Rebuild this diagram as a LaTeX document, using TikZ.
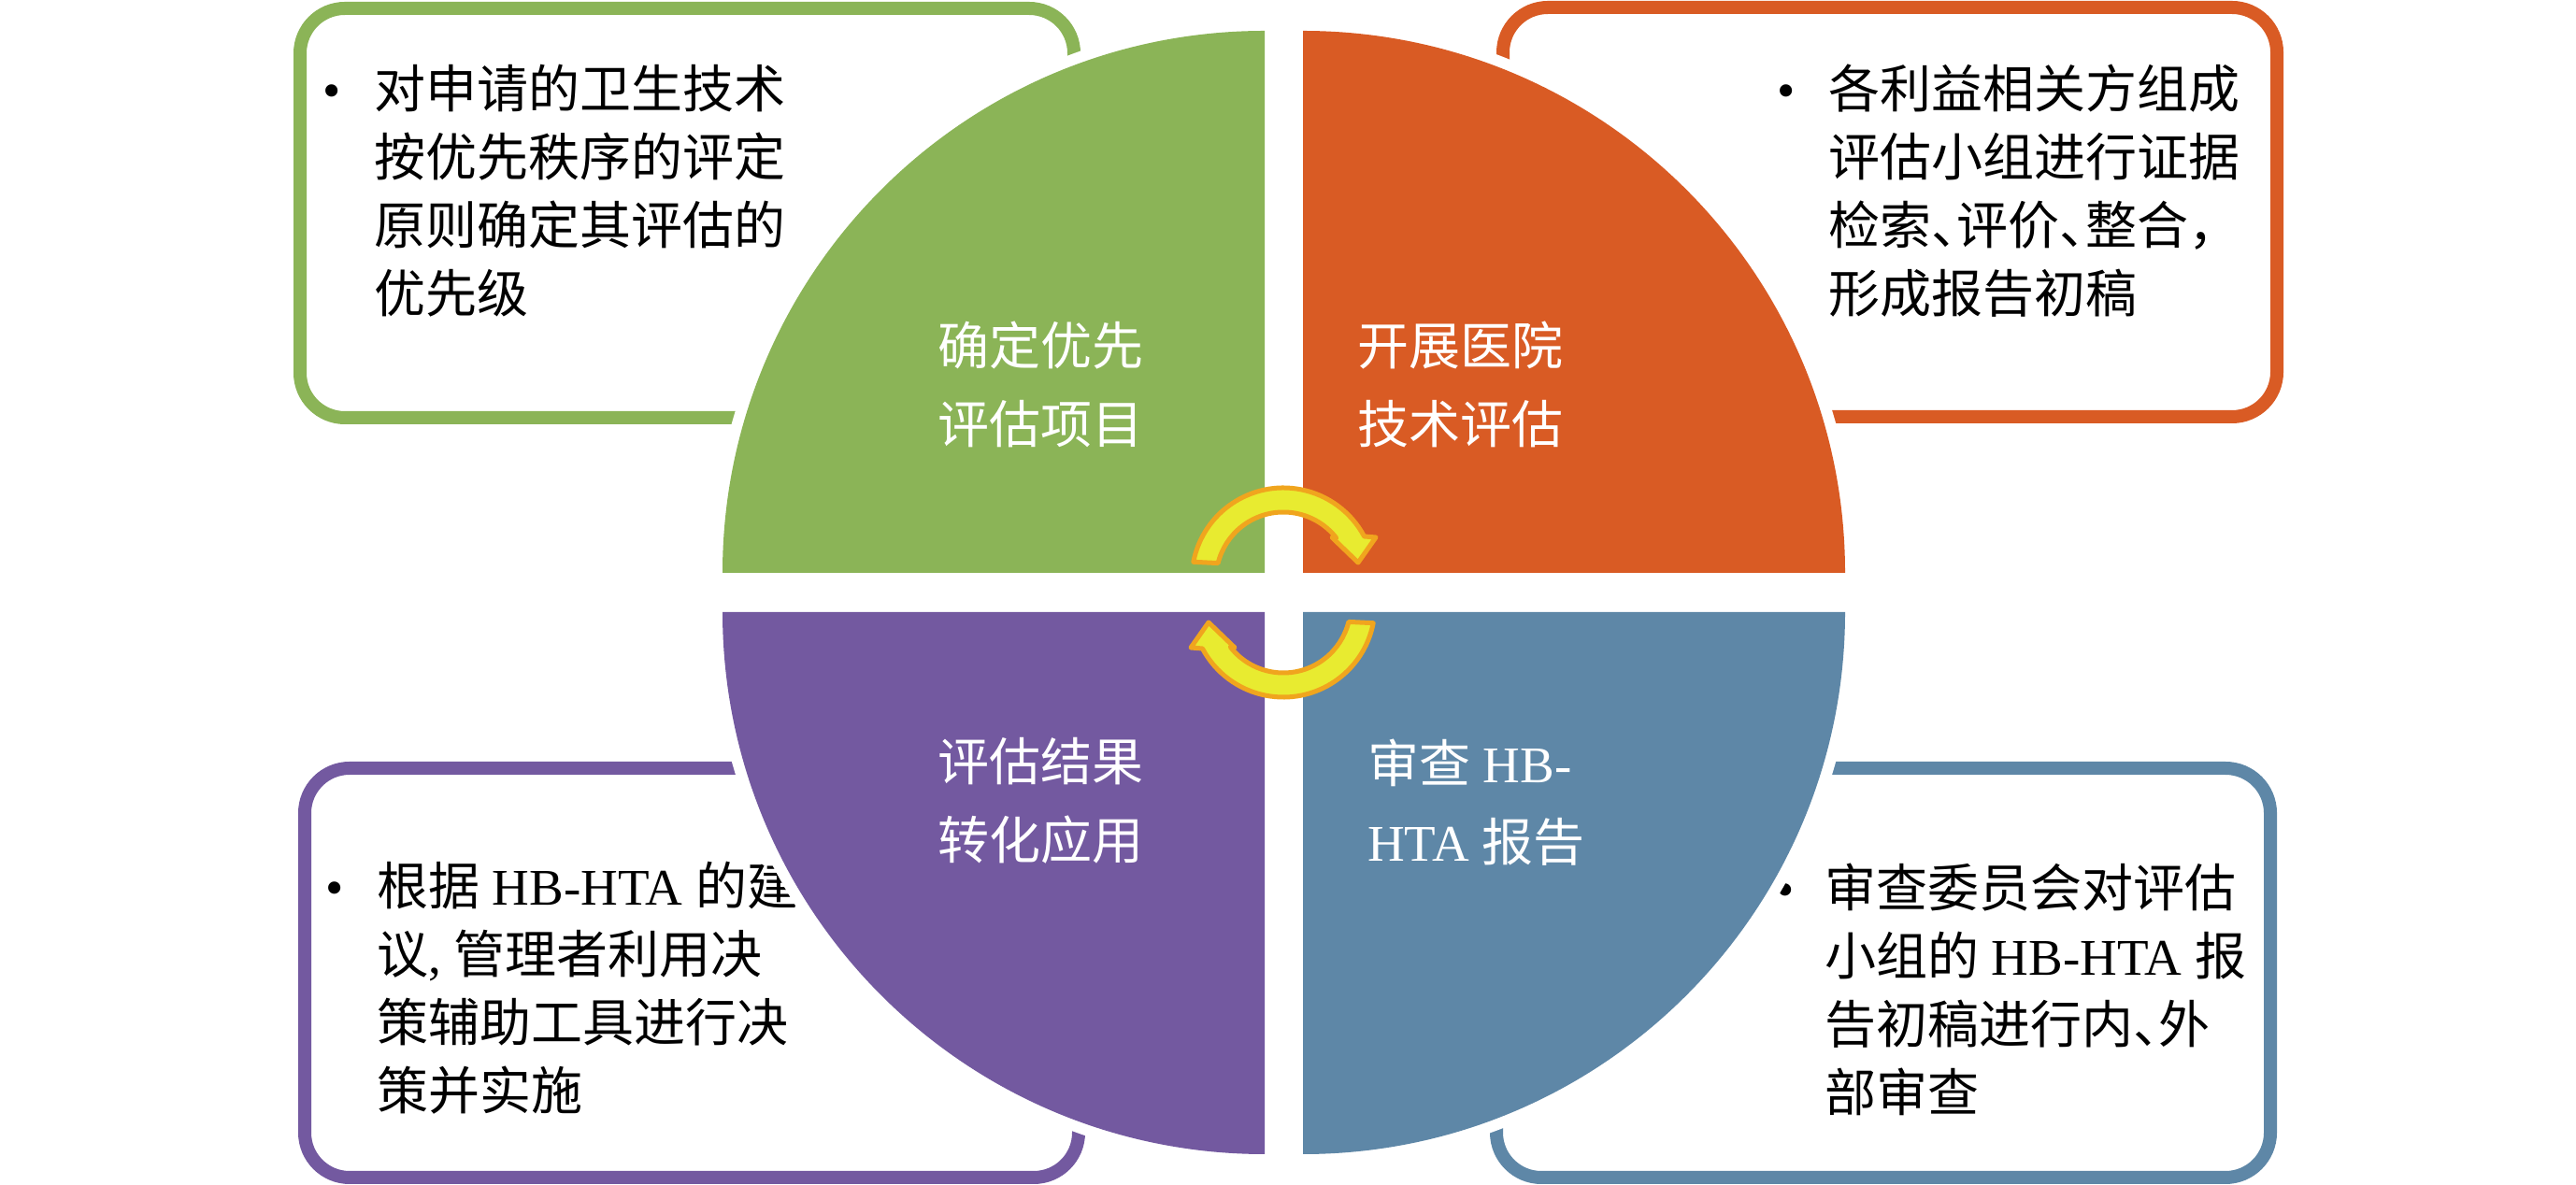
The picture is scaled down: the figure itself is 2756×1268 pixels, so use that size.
\documentclass[tikz,border=0pt]{standalone}
\usepackage{fontspec}
\setmainfont{Noto Sans CJK SC}
\newfontfamily\latin{Liberation Serif}
\usetikzlibrary{positioning}

\definecolor{qgreen}{RGB}{139,180,87}
\definecolor{qorange}{RGB}{217,91,36}
\definecolor{qpurple}{RGB}{115,89,160}
\definecolor{qblue}{RGB}{94,135,167}
\definecolor{cycfill}{RGB}{232,235,48}
\definecolor{cycline}{RGB}{240,165,30}

% half-width punctuation
\newcommand{\dun}{\makebox[.5em][l]{、}}
\newcommand{\dou}{\makebox[.5em][l]{，}}

\begin{document}
\begin{tikzpicture}[x=1pt, y=1pt,
  panel/.style={rectangle, draw=#1, line width=14pt, rounded corners=48pt, minimum width=828pt, minimum height=438pt},
  boxtext/.style={anchor=north west, inner sep=0pt, align=left, text=black, font=\fontsize{55}{73}\selectfont},
  qtext/.style={anchor=north west, inner sep=0pt, align=left, text=white, font=\fontsize{55}{84}\selectfont},
  cyc/.style={fill=cycfill, draw=cycline, line width=5pt, line join=round}
]
  \path[use as bounding box, fill=white] (0,0) rectangle (2756,1268);

  % the four panels
  \node[panel=qgreen] (gpanel) at (735,1040) {};
  \node[panel=qorange] (opanel) at (2022,1041) {};
  \node[panel=qpurple] (ppanel) at (740,227) {};
  \node[panel=qblue] (bpanel) at (2015,227) {};

  \node[boxtext] (gtext) at (400,1199) {\llap{\latin •\hspace{35pt}}对申请的卫生技术\\按优先秩序的评定\\原则确定其评估的\\优先级};
  \node[boxtext] (otext) at (1956,1199) {\llap{\latin •\hspace{35pt}}各利益相关方组成\\评估小组进行证据\\检索\dun 评价\dun 整合\dou\\形成报告初稿};
  \node[boxtext] (ptext) at (403,346) {\llap{\latin •\hspace{35pt}}根据{\latin\ HB-HTA\ }的建\\议{\latin,\ }管理者利用决\\策辅助工具进行决\\策并实施};
  \node[boxtext] (btext) at (1952,344) {\llap{\latin •\hspace{32pt}}审查委员会对评估\\小组的{\latin\ HB-HTA\ }报\\告初稿进行内\dun 外\\部审查};

  % quarter discs
  \foreach \col/\cx/\cy/\a in {qgreen/1353/655/90, qorange/1394/655/0, qpurple/1353/613/180, qblue/1394/613/270} {
    \filldraw[white, line width=24pt, line join=round] (\cx,\cy) -- ++(\a:580) arc[start angle=\a, delta angle=90, radius=580] -- cycle;
    \fill[\col] (\cx,\cy) -- ++(\a:580) arc[start angle=\a, delta angle=90, radius=580] -- cycle;
  }

  \node[qtext] (glabel) at (1003,924) {确定优先\\评估项目};
  \node[qtext] (olabel) at (1452,924) {开展医院\\技术评估};
  \node[qtext] (plabel) at (1003,479) {评估结果\\转化应用};
  \node[qtext] (blabel) at (1463,477) {审查{\latin\ HB-}\\{\latin HTA\ }报告};

  % cycle arrows
  \foreach \ang/\cy in {0/648, 180/620}
    \draw[cyc, shift={(1373,\cy)}, rotate=\ang] (169:98) arc[start angle=169, end angle=28, radius=98]
      -- (99,45) -- (80,18) -- (52,45) -- (38:72) arc[start angle=38, end angle=166, radius=72] -- cycle;
\end{tikzpicture}
\end{document}
